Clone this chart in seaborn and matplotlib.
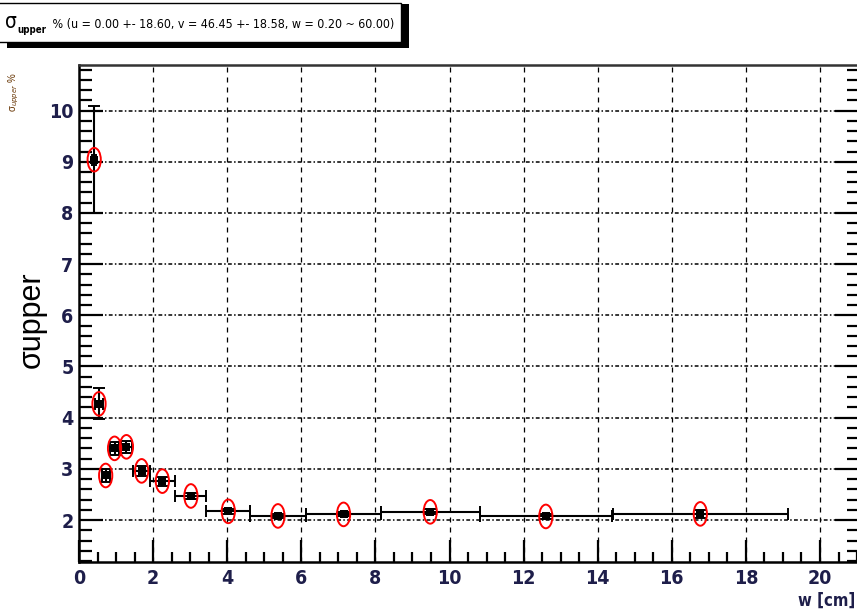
import numpy as np
import pandas as pd
import matplotlib
matplotlib.use("Agg")
import matplotlib.pyplot as plt
import seaborn as sns
from matplotlib.path import Path
from matplotlib.transforms import Affine2D
from matplotlib.patches import Rectangle
from matplotlib.ticker import MultipleLocator
from matplotlib import font_manager as fm

# ---- data ----
w_center = [0.41, 0.54, 0.72, 0.96, 1.28, 1.69, 2.25, 3.02, 4.03, 5.37, 7.14, 9.48, 12.60, 16.77]
sigma_upper = [9.04, 4.27, 2.87, 3.40, 3.43, 2.96, 2.76, 2.47, 2.17, 2.08, 2.11, 2.16, 2.07, 2.12]
w_err = [0.05, 0.10, 0.11, 0.11, 0.14, 0.23, 0.34, 0.42, 0.59, 0.76, 1.01, 1.33, 1.79, 2.37]
sigma_err = [1.05, 0.30, 0.12, 0.12, 0.12, 0.10, 0.09, 0.06, 0.05, 0.04, 0.04, 0.05, 0.05, 0.08]
x_ticks = [0, 2, 4, 6, 8, 10, 12, 14, 16, 18, 20]
y_ticks = [2, 3, 4, 5, 6, 7, 8, 9, 10]
title_sym = "σ"
title_sub = "upper"
title_rest = " % (u = 0.00 +- 18.60, v = 46.45 +- 18.58, w = 0.20 ~ 60.00)"
y_label = "σupper"
x_label = "w [cm]"

df = pd.DataFrame({"w": w_center, "s": sigma_upper, "we": w_err, "se": sigma_err})

sns.set_theme(style="white")
plt.rcParams["font.family"] = ["Liberation Sans", "DejaVu Sans"]


def find_narrow(bold):
    cands = []
    for f in fm.fontManager.ttflist:
        nm = (f.name + " " + f.fname).lower()
        if ("narrow" in nm or "condensed" in nm) and "mono" not in nm and "serif" not in nm.replace("sans", ""):
            isbold = ("bold" in f.fname.lower()) or (f.weight in ("bold", 700))
            italic = "italic" in f.fname.lower() or "oblique" in f.fname.lower()
            if isbold == bold and not italic:
                cands.append(f.fname)
    cands.sort(key=lambda p: (0 if "liberation" in p.lower() else 1, p))
    return cands[0] if cands else None


nb = find_narrow(True)
nr = find_narrow(False)


def fp(bold, size):
    path = nb if bold else nr
    if path:
        return fm.FontProperties(fname=path, size=size)
    return fm.FontProperties(family=["Liberation Sans", "DejaVu Sans"],
                             weight="bold" if bold else "normal", size=size)


W, H = 857, 613
fig = plt.figure(figsize=(W / 100, H / 100), dpi=100)
fig.patch.set_facecolor("white")

ax_left, ax_right, ax_top, ax_bottom = 79, 859, 65, 562
ax = fig.add_axes([ax_left / W, (H - ax_bottom) / H, (ax_right - ax_left) / W, (ax_bottom - ax_top) / H])
ax.set_facecolor("white")
ax.set_xlim(0, (ax_right - ax_left) / 37.05)
ax.set_ylim(1.18, 10.89)

for xv in x_ticks[1:]:
    ax.axvline(xv, color="black", lw=0.9, ls=(0, (4, 4)), zorder=1)
for yv in y_ticks:
    ax.axhline(yv, color="black", lw=1.1, ls=(0, (2.5, 1.5, 1, 1.5)), zorder=1)

ax.errorbar(df["w"], df["s"], xerr=df["we"], yerr=df["se"], fmt="none",
            ecolor="black", elinewidth=1.5, capsize=4, capthick=1.4, zorder=3)

sns.scatterplot(data=df, x="w", y="s", marker="s", s=26, color="black",
                edgecolor="black", linewidth=0, ax=ax, zorder=4, legend=False)

ell = Path.unit_circle().transformed(Affine2D().scale(0.56, 1.0))
sns.scatterplot(data=df, x="w", y="s", marker=ell, s=290, facecolor="none",
                edgecolor="red", linewidth=1.4, ax=ax, zorder=5, legend=False)

ax.set_xlabel("")
ax.set_ylabel("")
ax.set_xticks(x_ticks)
ax.set_yticks(y_ticks)
ax.xaxis.set_minor_locator(MultipleLocator(0.5))
ax.yaxis.set_minor_locator(MultipleLocator(0.2))
ax.tick_params(axis="both", which="both", direction="in", color="black", width=1.6,
               top=False, right=True, left=True, bottom=True)
ax.tick_params(axis="x", which="major", length=16, pad=5)
ax.tick_params(axis="x", which="minor", length=7)
ax.tick_params(axis="y", which="major", length=17, pad=4)
ax.tick_params(axis="y", which="minor", length=9)
tick_fp = fp(True, 14 if nb else 12)
for lab in ax.get_xticklabels() + ax.get_yticklabels():
    lab.set_fontproperties(tick_fp)
    lab.set_color("#1e1e4a")

for sp in ["left", "bottom", "top", "right"]:
    ax.spines[sp].set_color("black")
    ax.spines[sp].set_linewidth(1.8)
ax.spines["top"].set_color("#333333")

fig.text(855 / W, 1 - 601 / H, x_label, ha="right", va="center",
         fontproperties=fp(True, 12 if nb else 11), color="#1e1e4a")
fig.text(32 / W, 1 - 320 / H, y_label, ha="center", va="center", rotation=90,
         fontsize=22, color="black")
fig.text(14 / W, 1 - 92 / H, "σ$_{upper}$ %", ha="center", va="center", rotation=90,
         fontsize=7, color="#663300")

fig.add_artist(Rectangle((7 / W, 1 - 48 / H), 402 / W, 44 / H, transform=fig.transFigure,
                         facecolor="black", edgecolor="none", zorder=8))
fig.add_artist(Rectangle((-2 / W, 1 - 42 / H), 403 / W, 39 / H, transform=fig.transFigure,
                         facecolor="white", edgecolor="black", lw=1.0, zorder=9))

fig.canvas.draw()
rend = fig.canvas.get_renderer()
base_y = 1 - 28 / H
t1 = fig.text(5 / W, base_y, title_sym, ha="left", va="baseline",
              fontproperties=fp(False, 15), color="black", zorder=10)
fig.canvas.draw()
bb1 = t1.get_window_extent(rend)
t2 = fig.text((bb1.x1 + 1) / W, base_y - 5 / H, title_sub, ha="left", va="baseline",
              fontproperties=fp(True, 7), color="black", zorder=10)
fig.canvas.draw()
bb2 = t2.get_window_extent(rend)
rest_fp = fp(False, 14)
t3 = fig.text((bb2.x1 + 2) / W, base_y, title_rest, ha="left", va="baseline",
              fontproperties=rest_fp, color="black", zorder=10)
fig.canvas.draw()
bb3 = t3.get_window_extent(rend)
target = 396 - (bb2.x1 + 2)
new_size = min(14, 14 * target / bb3.width)
t3.set_fontsize(new_size)

fig.savefig("out.png", dpi=100)
